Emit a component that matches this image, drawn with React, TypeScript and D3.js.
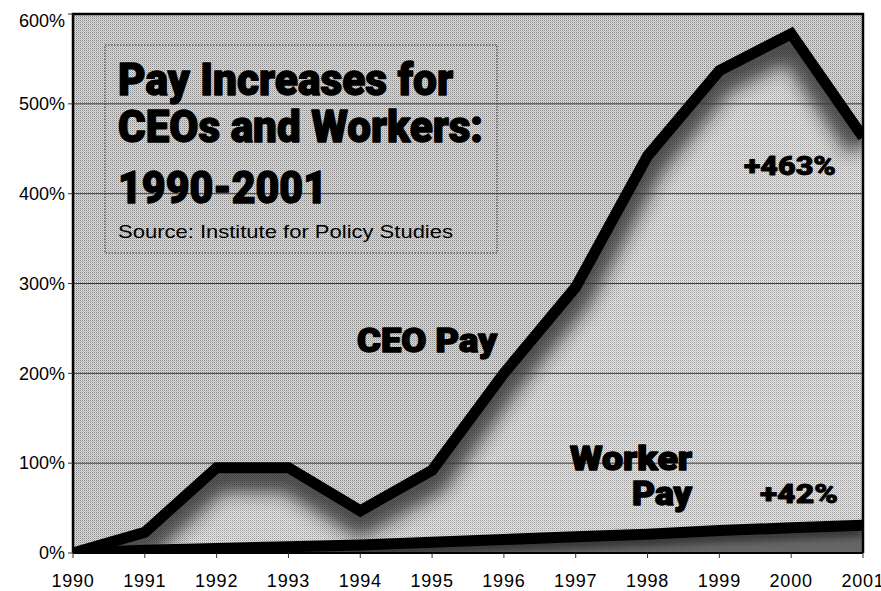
import React from "react";
import * as d3 from "d3";

const years = [1990, 1991, 1992, 1993, 1994, 1995, 1996, 1997, 1998, 1999, 2000, 2001];
const ceoPay = [0, 23, 95, 95, 47, 92, 200, 296, 442, 537, 578, 463];
const workerPay = [0, 3, 5, 7, 9, 12, 15, 18, 21, 25, 28, 31];
const yTicks = [0, 100, 200, 300, 400, 500, 600];
const titleLines = ["Pay Increases for", "CEOs and Workers:", "1990-2001"];
const sourceText = "Source: Institute for Policy Studies";

const W = 881;
const H = 591;
const L = 73, R = 863, T = 14, B = 553;

const condensed = "Roboto, 'Liberation Sans Narrow', 'Liberation Sans', Arial, sans-serif";
const sans = "'Liberation Sans', Arial, Helvetica, sans-serif";

export default function App() {
  const x = d3.scaleLinear().domain([1990, 2001]).range([L, R]);
  const y = d3.scaleLinear().domain([0, 600]).range([B, T]);
  const ceo = years.map((yr, i) => [yr, ceoPay[i]] as [number, number]);
  const wrk = years.map((yr, i) => [yr, workerPay[i]] as [number, number]);
  const line = d3.line<[number, number]>().x(d => x(d[0])).y(d => y(d[1]));
  const area = d3.area<[number, number]>().x(d => x(d[0])).y0(y(0)).y1(d => y(d[1]));
  const ceoLine = line(ceo)!;
  const wrkLine = line(wrk)!;
  const ceoArea = area(ceo)!;
  const wrkArea = area(wrk)!;

  const heavy = { fontFamily: condensed, fontWeight: 900, fill: "#000", stroke: "#000", strokeWidth: 1.4, strokeLinejoin: "round" as const };

  return (
    <svg width={W} height={H} style={{ position: "absolute", left: 0, top: 0, background: "#fff" }}>
      <defs>
        <pattern id="bgPat" width="2" height="2" patternUnits="userSpaceOnUse">
          <rect width="2" height="2" fill="#dadada" />
          <rect width="1" height="1" fill="#8a8a8a" />
          <rect x="1" y="1" width="1" height="1" fill="#b8b8b8" />
        </pattern>
        <pattern id="inPat" width="2" height="2" patternUnits="userSpaceOnUse">
          <rect width="2" height="2" fill="#e4e4e4" />
          <rect width="1" height="1" fill="#9c9c9c" />
          <rect x="1" y="1" width="1" height="1" fill="#c6c6c6" />
        </pattern>
        <clipPath id="plotClip">
          <rect x={L} y={T} width={R - L} height={B - T} />
        </clipPath>
        <clipPath id="ceoClip">
          <path d={ceoArea} />
        </clipPath>
        <filter id="blurS" x="-20%" y="-20%" width="140%" height="140%">
          <feGaussianBlur stdDeviation="9" />
        </filter>
        <filter id="blurW" x="-20%" y="-50%" width="140%" height="200%">
          <feGaussianBlur stdDeviation="4" />
        </filter>
      </defs>

      <g clipPath="url(#plotClip)">
        <rect x={L} y={T} width={R - L} height={B - T} fill="url(#bgPat)" />
        <path d={ceoArea} fill="url(#inPat)" />
        <g clipPath="url(#ceoClip)">
          <path d={ceoLine} fill="none" stroke="#1a1a1a" strokeWidth={34} opacity={0.75} filter="url(#blurS)" transform="translate(0,8)" />
        </g>
        {yTicks.filter(t => t > 0 && t < 600).map(t => (
          <line key={t} x1={L} x2={R} y1={y(t)} y2={y(t)} stroke="#3a3a3a" strokeWidth={1} />
        ))}
        <path d={wrkArea} fill="#555" opacity={0.85} />
        <path d={wrkLine} fill="none" stroke="#000" strokeWidth={9} transform="translate(0,6)" filter="url(#blurW)" opacity={0.6} />
        <path d={wrkLine} fill="none" stroke="#000" strokeWidth={11} strokeLinejoin="miter" />
        <path d={ceoLine} fill="none" stroke="#000" strokeWidth={11} strokeLinejoin="miter" />
      </g>

      {/* plot border */}
      <path d={`M${L},${B}V${T}H${R}V${B}`} fill="none" stroke="#000" strokeWidth={2.5} />
      <line x1={L} x2={R} y1={B} y2={B} stroke="#000" strokeWidth={2} />

      {/* y ticks and labels */}
      {yTicks.map(t => (
        <g key={t}>
          <line x1={L - 5} x2={L} y1={y(t)} y2={y(t)} stroke="#333" strokeWidth={1} />
          <text x={65} y={y(t) + (t === 600 ? 7 : 0)} dy="0.35em" textAnchor="end" fontFamily={sans} fontSize={18} fill="#000">{t}%</text>
        </g>
      ))}

      {/* x ticks and labels */}
      {years.map(yr => (
        <g key={yr}>
          <line x1={x(yr)} x2={x(yr)} y1={B} y2={B + 5} stroke="#333" strokeWidth={1} />
          <text x={x(yr)} y={587} textAnchor="middle" fontFamily={sans} fontSize={18} letterSpacing={0.8} fill="#000">{yr}</text>
        </g>
      ))}

      {/* title box */}
      <rect x={105} y={45} width={392} height={208} fill="none" stroke="#333" strokeWidth={1} strokeDasharray="1.5,1.5" />
      <text x={118} y={95} fontSize={44} textLength={335} lengthAdjust="spacingAndGlyphs" {...heavy}>{titleLines[0]}</text>
      <text x={118} y={142} fontSize={44} textLength={365} lengthAdjust="spacingAndGlyphs" {...heavy}>{titleLines[1]}</text>
      <text x={118} y={203} fontSize={44} textLength={209} lengthAdjust="spacingAndGlyphs" {...heavy}>{titleLines[2]}</text>
      <text x={118} y={238} fontFamily={sans} fontSize={18} textLength={335} lengthAdjust="spacingAndGlyphs" fill="#000">{sourceText}</text>

      {/* series labels */}
      <text x={357} y={352} fontSize={33} textLength={140} lengthAdjust="spacingAndGlyphs" {...heavy}>CEO Pay</text>
      <text x={570} y={470} fontSize={33} textLength={122} lengthAdjust="spacingAndGlyphs" {...heavy}>Worker</text>
      <text x={632} y={505} fontSize={33} textLength={60} lengthAdjust="spacingAndGlyphs" {...heavy}>Pay</text>
      <text x={744} y={175} fontSize={25} textLength={92} lengthAdjust="spacingAndGlyphs" {...heavy} strokeWidth={0.8}>+463%</text>
      <text x={760} y={503} fontSize={25} textLength={78} lengthAdjust="spacingAndGlyphs" {...heavy} strokeWidth={0.8}>+42%</text>
    </svg>
  );
}
